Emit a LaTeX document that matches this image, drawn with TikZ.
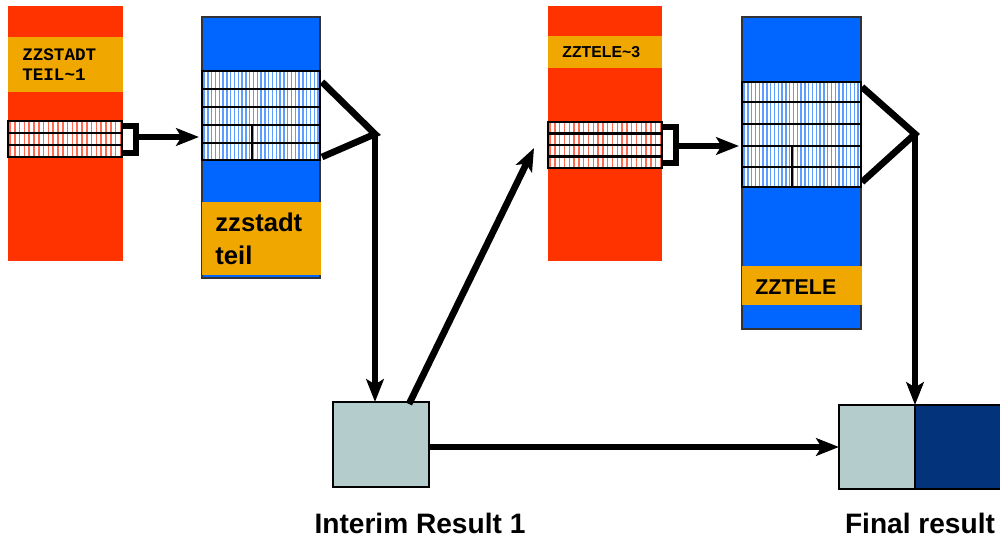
\documentclass[tikz,border=0pt]{standalone}
\usepackage{fontspec}
\setmainfont{Liberation Sans}
\newfontfamily\monob{Liberation Mono}
\usetikzlibrary{arrows.meta,fit}
\definecolor{tred}{HTML}{FF3300}
\definecolor{tor}{HTML}{F0A800}
\definecolor{tblue}{HTML}{0066FF}
\definecolor{tgrey}{HTML}{B4CCCC}
\definecolor{tnavy}{HTML}{03337A}
\definecolor{sblue}{HTML}{5C9DFF}
\definecolor{sred}{HTML}{FF6A50}
\newcommand\stripefill[6]{%
  \begin{scope}
    \fill[white] (#1,#2) rectangle (#3,#4);
    \clip (#1,#2) rectangle (#3,#4);
    \foreach \i in {0,...,34} \draw[#5, line width=0.8pt] ({#1+2+#6*\i},#2) -- ({#1+2+#6*\i},#4);
  \end{scope}}
\tikzset{
  box/.style={inner sep=0pt, outer sep=0pt},
  grid/.style={draw=black, line width=1.3pt},
  conn/.style={line width=3.8pt, line cap=butt, line join=miter},
  brk/.style={line width=3pt, line join=miter},
  arr/.style={-{Stealth[length=13pt, width=10pt, inset=3pt]}},
  lab/.style={font=\fontsize{16}{18}\selectfont\bfseries, inner sep=0pt}
}
\begin{document}
\begin{tikzpicture}[x=0.02cm, y=-0.02cm]
\clip (0,0) rectangle (1000,537);
\fill[white] (0,0) rectangle (1000,537);

% ---- left red table ZZSTADTTEIL~1
\node[box, fit={(8,6)(123,261)}, fill=tred] (r1) {};
\node[box, fit={(8,37)(123,92)}, fill=tor] (o1) {};
\node[anchor=west, inner sep=0pt, align=left, font=\monob\fontsize{10}{11.4}\selectfont\bfseries] (t1) at (22,65) {ZZSTADT\\TEIL\textasciitilde1};
\stripefill{8}{121}{122}{157}{sred}{4.8}
\node[box, fit={(8,121)(122,157)}] (s1) {};
\draw[grid] (8,121) rectangle (122,157);
\draw[grid] (8,133) -- (122,133) (8,145) -- (122,145);

% ---- blue table zzstadt teil
\node[box, fit={(202,17)(320,278)}, fill=tblue, draw=black!80, line width=0.6pt] (b1) {};
\stripefill{202}{71}{320}{160}{sblue}{3.8}
\node[box, fit={(202,71)(320,160)}] (s2) {};
\draw[grid] (202,71) rectangle (320,160);
\draw[grid] (202,89) -- (320,89) (202,107) -- (320,107) (202,125) -- (320,125) (202,143) -- (320,143);
\draw[grid] (252,125) -- (252,160);
\node[box, fit={(202,202)(321,275)}, fill=tor] (o2) {};
\node[anchor=west, inner sep=0pt, align=left, font=\fontsize{14.6}{18.7}\selectfont\bfseries] (t2) at (215,239) {zzstadt\\teil};

% ---- second red table ZZTELE~3
\node[box, fit={(548,6)(662,261)}, fill=tred] (r2) {};
\node[box, fit={(548,36)(662,68)}, fill=tor] (o3) {};
\node[anchor=west, inner sep=0pt, font=\fontsize{9}{10}\selectfont\bfseries] (t3) at (562,52) {ZZTELE\textasciitilde3};
\stripefill{548}{122}{662}{168}{sred}{4.8}
\node[box, fit={(548,122)(662,168)}] (s3) {};
\draw[grid] (548,122) rectangle (662,168);
\draw[grid] (548,133.5) -- (662,133.5) (548,145) -- (662,145) (548,156.5) -- (662,156.5);

% ---- second blue table ZZTELE
\node[box, fit={(742,17)(861,329)}, fill=tblue, draw=black!80, line width=0.6pt] (b2) {};
\stripefill{742}{82}{861}{187}{sblue}{3.8}
\node[box, fit={(742,82)(861,187)}] (s4) {};
\draw[grid] (742,82) rectangle (861,187);
\draw[grid] (742,102) -- (861,102) (742,124) -- (861,124) (742,146) -- (861,146) (742,167) -- (861,167);
\draw[grid] (792,146) -- (792,187);
\node[box, fit={(742,266)(862,305)}, fill=tor] (o4) {};
\node[anchor=west, inner sep=0pt, font=\fontsize{12.2}{14}\selectfont\bfseries] (t4) at (755,287) {ZZTELE};

% ---- result boxes
\node[box, fit={(333,402)(429,487)}, fill=tgrey, draw=black, line width=0.9pt] (ir) {};
\node[box, fit={(839,405)(915,489)}, fill=tgrey, draw=black, line width=0.9pt] (f1) {};
\node[box, fit={(915,405)(1010,489)}, fill=tnavy, draw=black, line width=0.9pt] (f2) {};
\node[lab] (lir) at (420,523) {Interim Result 1};
\node[lab] (lf) at (920,523) {Final result};

% ---- coordinates
\coordinate (j1) at (375,134);
\coordinate (j2) at (915,134);
\coordinate (a1) at (199,137);
\coordinate (a2) at (739,146);
\coordinate (a3) at (534,148);

% ---- connectors
\draw[brk] ([yshift=-5*0.02cm]s1.north east) -| (136,153) -- ([yshift=4*0.02cm]s1.south east);
\draw[conn, arr] (136,137) -- (a1);
\draw[brk] (662,127) -| (676,163) -- (662,163);
\draw[conn, arr] (676,146) -- (a2);

\draw[conn] (322,82) -- (j1) -- (322,157);
\draw[conn, arr] (j1) -- (ir.north -| j1);
\draw[conn, arr] (409,404) -- (a3);
\draw[conn, arr] (ir.east |- 0,447) -- (f1.west |- 0,447);

\draw[conn] (862,87) -- (j2) -- (862,182);
\draw[conn, arr] (j2) -- (f1.north east);
\end{tikzpicture}
\end{document}
